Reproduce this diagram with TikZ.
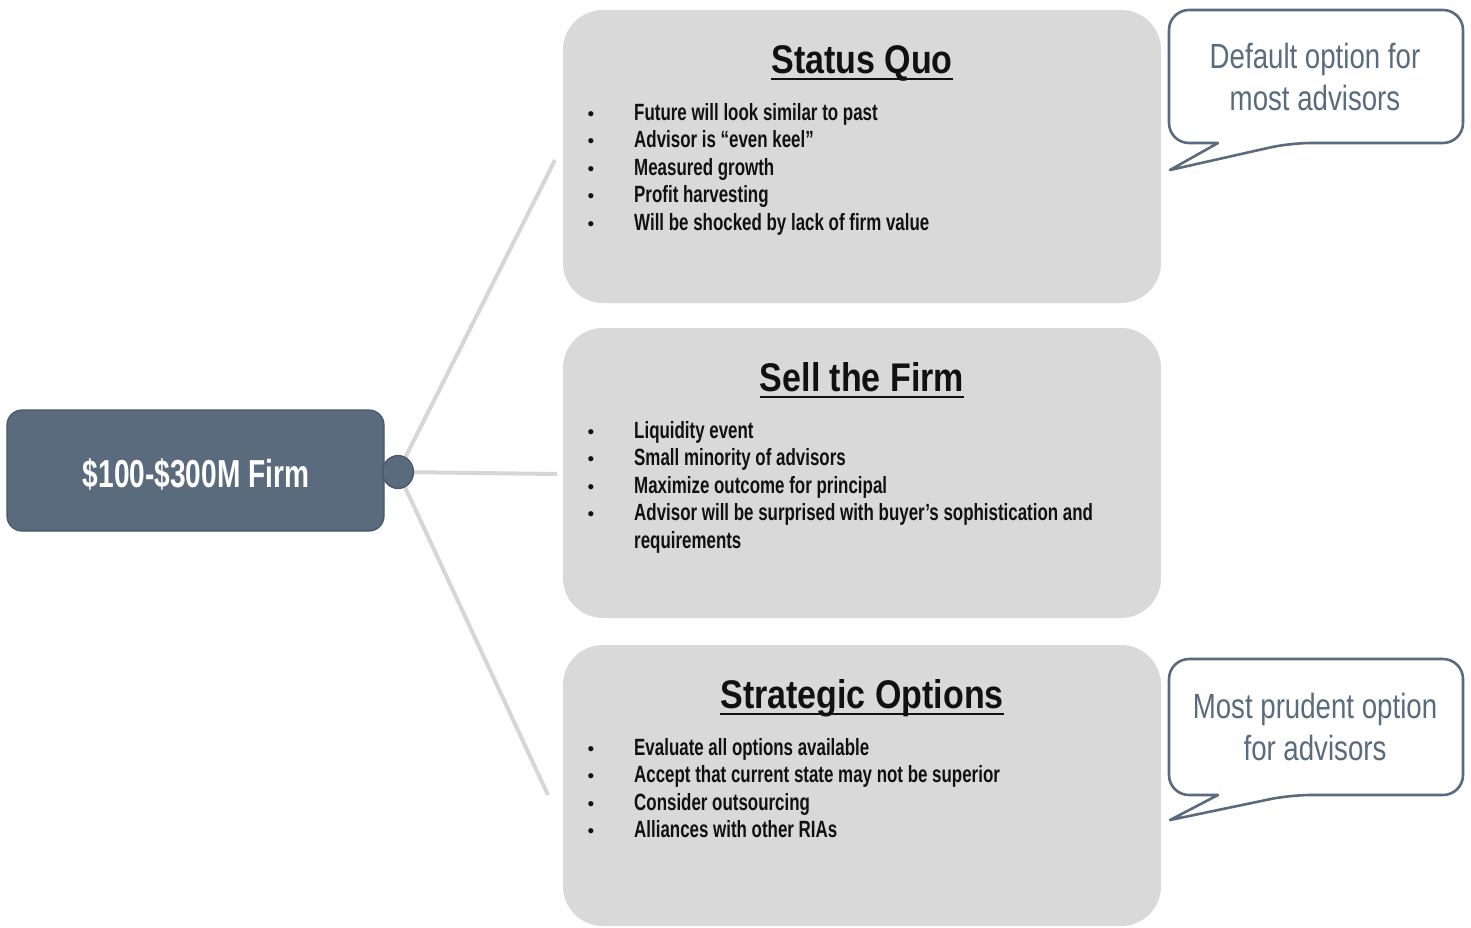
\documentclass[tikz,border=0pt]{standalone}
\usepackage{fontspec}
\usetikzlibrary{shapes.geometric}
\setmainfont{Liberation Sans}
\newfontfamily\bodyfont[FakeStretch=0.72]{Liberation Sans}
\newfontfamily\titlefont[FakeStretch=0.85]{Liberation Sans}
\newfontfamily\notefont[FakeStretch=0.79]{Liberation Sans}
\definecolor{slate}{HTML}{5A6B7D}
\definecolor{slatedark}{HTML}{46566A}
\definecolor{panel}{HTML}{D9D9D9}
\definecolor{spoke}{HTML}{D6D6D6}
\definecolor{ink}{HTML}{111111}
\tikzset{
  panelbox/.style={fill=panel, draw=none, rounded corners=40pt},
  rootbox/.style={fill=slate, draw=slatedark, line width=1.2pt, rounded corners=15pt},
  hubdot/.style={ellipse, fill=slate, draw=slatedark, line width=1.2pt, minimum width=31pt, minimum height=33pt, inner sep=0pt},
  spokeline/.style={draw=spoke, line width=4pt},
  calloutbox/.style={draw=slate, line width=2.6pt, fill=white, line join=round},
  ptitle/.style={inner sep=0pt, anchor=base, text=ink, font=\titlefont\bfseries\fontsize{40}{46}\selectfont},
  uline/.style={draw=ink, line width=2.6pt},
  item/.style={inner sep=0pt, anchor=base west, text=ink, font=\bodyfont\bfseries\fontsize{23.5}{28}\selectfont},
  dot/.style={inner sep=0pt, anchor=base, text=ink, font=\fontsize{19}{20}\selectfont},
  notetext/.style={inner sep=0pt, anchor=base, text=slate, font=\notefont\fontsize{35}{40}\selectfont},
  roottext/.style={inner sep=0pt, anchor=base, text=white, font=\bodyfont\bfseries\fontsize{39}{44}\selectfont},
}
\begin{document}
\begin{tikzpicture}[x=1pt,y=-1pt]
\useasboundingbox (0,0) rectangle (1471,927);
\fill[white] (0,0) rectangle (1471,927);

% three option panels
\path[panelbox] (563,10) rectangle (1161,303);
\path[panelbox] (563,328) rectangle (1161,618);
\path[panelbox] (563,645) rectangle (1161,926);

% root box and hub
\draw[rootbox] (7,410) rectangle (384,531);
\node[roottext] (root) at (196,487) {\$100-\$300M Firm};
\coordinate (hubc) at (398,472);
\coordinate (endA) at (555,160);
\coordinate (endB) at (557,474);
\coordinate (endC) at (548,795);
\draw[spokeline] (hubc) -- (endA);
\draw[spokeline] (hubc) -- (endB);
\draw[spokeline] (hubc) -- (endC);
\node[hubdot] (hub) at (hubc) {};

% panel 1
\node[ptitle] (t1) at (862,73) {Status Quo};
\draw[uline] ([yshift=-6pt]t1.base west) -- ([yshift=-6pt]t1.base east);
\node[dot] (b11) at (591,120) {•};
\node[item] (i11) at (634,120) {Future will look similar to past};
\node[dot] (b12) at (591,147.5) {•};
\node[item] (i12) at (634,147.5) {Advisor is “even keel”};
\node[dot] (b13) at (591,175) {•};
\node[item] (i13) at (634,175) {Measured growth};
\node[dot] (b14) at (591,202.5) {•};
\node[item] (i14) at (634,202.5) {Profit harvesting};
\node[dot] (b15) at (591,230) {•};
\node[item] (i15) at (634,230) {Will be shocked by lack of firm value};

% panel 2
\node[ptitle] (t2) at (862,391) {Sell the Firm};
\draw[uline] ([yshift=-6pt]t2.base west) -- ([yshift=-6pt]t2.base east);
\node[dot] (b21) at (591,438) {•};
\node[item] (i21) at (634,438) {Liquidity event};
\node[dot] (b22) at (591,465.5) {•};
\node[item] (i22) at (634,465.5) {Small minority of advisors};
\node[dot] (b23) at (591,493) {•};
\node[item] (i23) at (634,493) {Maximize outcome for principal};
\node[dot] (b24) at (591,520.5) {•};
\node[item] (i24) at (634,520.5) {Advisor will be surprised with buyer’s sophistication and};
\node[item] (i25) at (634,548) {requirements};

% panel 3
\node[ptitle] (t3) at (862,708) {Strategic Options};
\draw[uline] ([yshift=-6pt]t3.base west) -- ([yshift=-6pt]t3.base east);
\node[dot] (b31) at (591,755) {•};
\node[item] (i31) at (634,755) {Evaluate all options available};
\node[dot] (b32) at (591,782.5) {•};
\node[item] (i32) at (634,782.5) {Accept that current state may not be superior};
\node[dot] (b33) at (591,810) {•};
\node[item] (i33) at (634,810) {Consider outsourcing};
\node[dot] (b34) at (591,837.5) {•};
\node[item] (i34) at (634,837.5) {Alliances with other RIAs};

% speech callouts
\draw[calloutbox] (1218,143) [rounded corners=20pt] -- (1169,143) -- (1169,10) -- (1463,10) -- (1463,143) -- (1290,143) [sharp corners] -- (1170,170) -- cycle;
\node[notetext] (n1a) at (1315,68) {Default option for};
\node[notetext] (n1b) at (1315,110) {most advisors};

\draw[calloutbox] (1218,795) [rounded corners=20pt] -- (1169,795) -- (1169,659) -- (1463,659) -- (1463,795) -- (1290,795) [sharp corners] -- (1170,820) -- cycle;
\node[notetext] (n2a) at (1315,718) {Most prudent option};
\node[notetext] (n2b) at (1315,760) {for advisors};
\end{tikzpicture}
\end{document}
